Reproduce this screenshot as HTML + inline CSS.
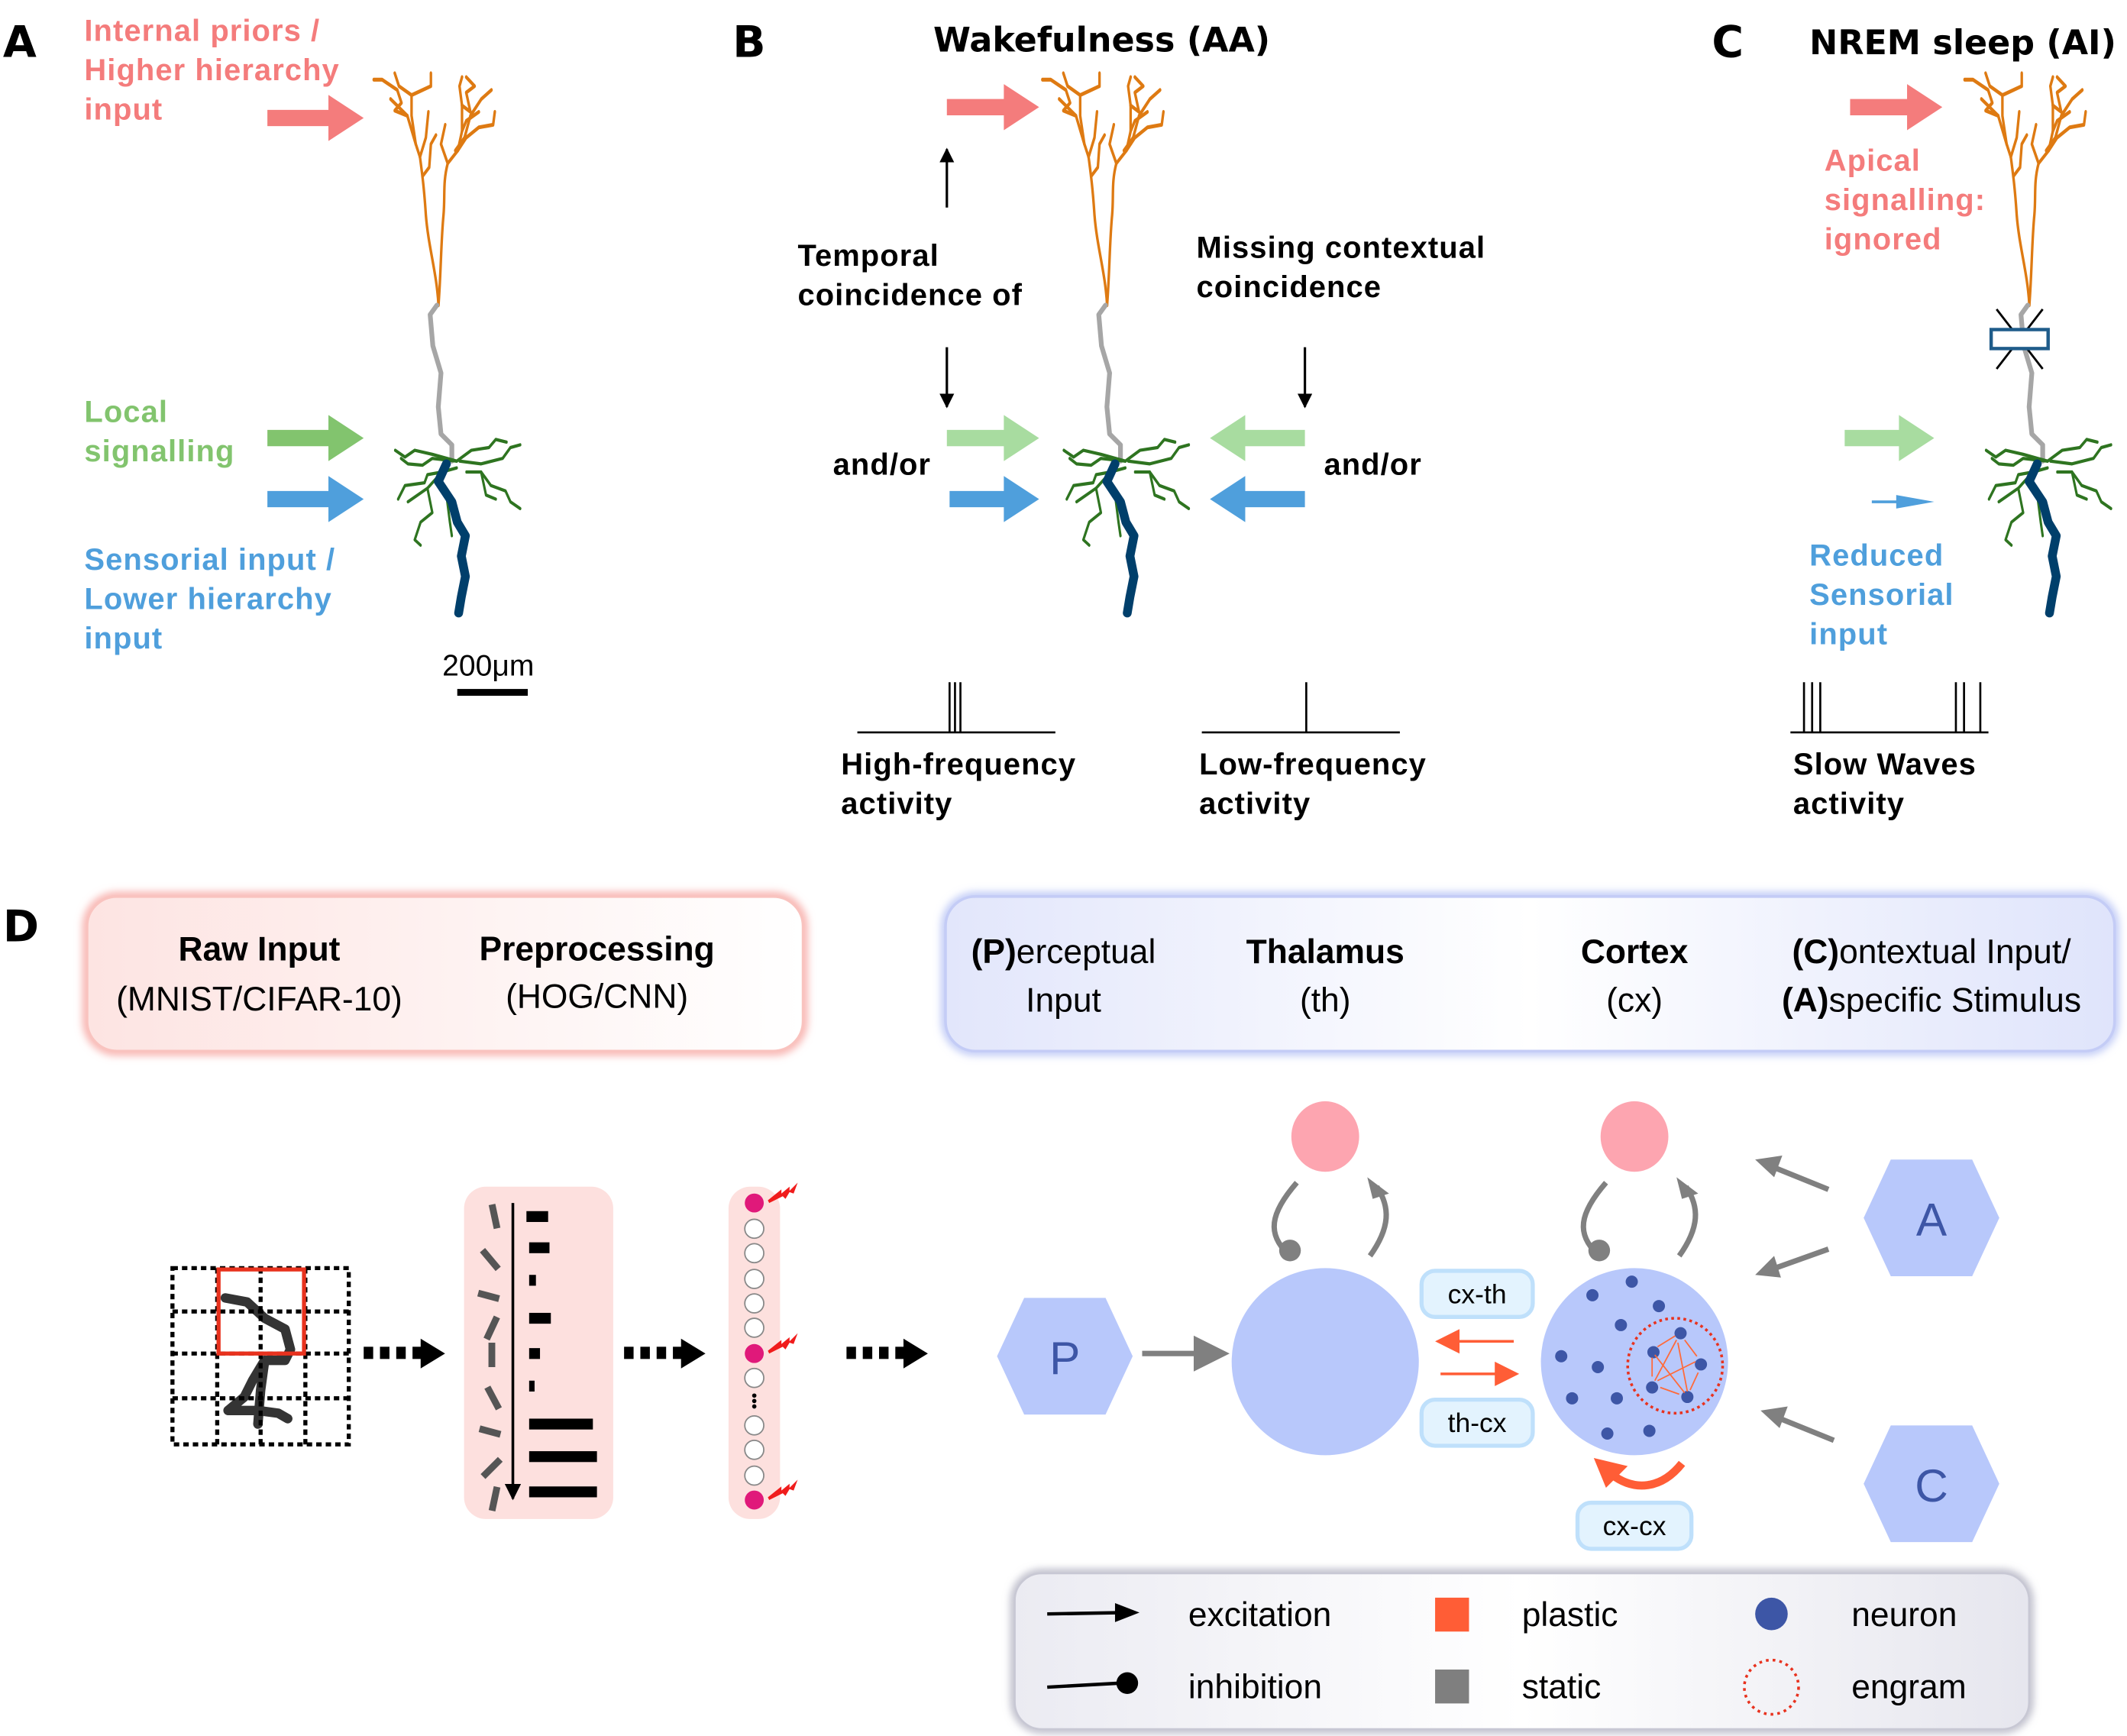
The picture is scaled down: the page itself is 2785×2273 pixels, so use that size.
<!DOCTYPE html>
<html><head><meta charset="utf-8">
<style>
html,body{margin:0;padding:0;background:#fff;}
svg{display:block;}
text{font-family:"Liberation Sans",sans-serif;}
.b{font-weight:bold;}
.dv{font-family:"DejaVu Sans",sans-serif;font-weight:bold;}
.lb{letter-spacing:0.6px;}
</style></head>
<body>
<svg width="2785" height="2273" viewBox="0 0 1568 1280" xmlns="http://www.w3.org/2000/svg">
<defs>
<g id="neuron" fill="none" stroke-linecap="round" stroke-linejoin="round">
  <g stroke="#de7a12" stroke-width="3" transform="translate(0,-115) scale(0.62,0.95) translate(0,115)">
    <path d="M-3,-115 C-5,-140 -15,-160 -18,-185 C-20,-205 -22,-215 -25,-230 L-30,-240 L-40,-262 L-60,-275"/>
    <path d="M-3,-115 C0,-140 0,-165 3,-185 C5,-200 2,-210 8,-225 L20,-235 L25,-250 L25,-270"/>
    <path d="M-25,-230 L-18,-245 L-15,-265"/>
    <path d="M-22,-215 L-14,-222 L-12,-240 L-6,-247"/>
    <path d="M-30,-240 L-35,-262 L-35,-278 L-12,-285 L-12,-295"/>
    <path d="M-40,-262 L-55,-266 L-47,-272 L-52,-282 L-70,-290 L-80,-290"/>
    <path d="M-35,-278 L-50,-285 L-55,-295"/>
    <path d="M8,-225 L0,-240 L5,-255"/>
    <path d="M20,-235 L30,-245 L45,-253 L62,-255 L64,-265"/>
    <path d="M25,-250 L30,-258 L45,-265"/>
    <path d="M25,-270 L22,-285 L25,-292"/>
    <path d="M25,-270 L35,-265 L30,-280 L40,-285 L30,-292"/>
    <path d="M17,-235 L28,-245 L35,-262 L48,-275 L60,-282"/>
  </g>
  <path d="M-3,-115 L-8,-108 L-6,-85 L0,-65 L-2,-40 L0,-20 L8,-12 L8,0" stroke="#a6a6a6" stroke-width="3.5"/>
  <g stroke="#2e7420" stroke-width="2.4" transform="translate(8,0) scale(0.72,1)">
    <path d="M5,0 L-20,-2 L-30,3 L-45,2 L-52,-2"/>
    <path d="M5,0 L-20,-5 L-38,-8 L-48,-3 L-58,-8"/>
    <path d="M5,0 L20,-8 L38,-10 L45,-16 L56,-14"/>
    <path d="M8,0 L30,2 L52,-2 L60,-10 L70,-12"/>
    <path d="M5,5 L-10,8 L-25,10 L-28,16 L-48,18 L-55,28"/>
    <path d="M-10,8 L-25,20 L-20,38 L-32,45 L-38,58 L-32,62"/>
    <path d="M-15,14 L-5,28 L-2,45 L0,55"/>
    <path d="M-25,20 L-45,30"/>
    <path d="M15,8 L30,8 L35,25 L45,28"/>
    <path d="M30,8 L40,18 L55,22 L60,30 L70,35"/>
  </g>
  <path d="M4,2 L-2,15 L8,30 L12,45 L18,55 L15,70 L18,85 L15,100 L13,112" stroke="#003f6b" stroke-width="6.5"/>
</g>
<marker id="ah" viewBox="0 0 10 10" refX="9" refY="5" markerWidth="6" markerHeight="6" orient="auto"><path d="M0,0 L10,5 L0,10z" fill="#000"/></marker>
<filter id="glowR" x="-10%" y="-20%" width="120%" height="140%"><feGaussianBlur stdDeviation="3"/></filter>
<linearGradient id="gR" x1="0" x2="1"><stop offset="0" stop-color="#fde4e2"/><stop offset="1" stop-color="#ffffff"/></linearGradient>
<linearGradient id="gB" x1="0" x2="1"><stop offset="0" stop-color="#e2e6fb"/><stop offset="0.5" stop-color="#ffffff"/><stop offset="1" stop-color="#dfe4fb"/></linearGradient>
<linearGradient id="gL" x1="0" x2="1"><stop offset="0" stop-color="#ebebf2"/><stop offset="0.5" stop-color="#ffffff"/><stop offset="1" stop-color="#e6e6ee"/></linearGradient>
</defs>

<text x="2" y="42" class="dv" font-size="32">A</text>
<text x="540" y="42" class="dv" font-size="32">B</text>
<text x="1262" y="42" class="dv" font-size="32">C</text>
<text x="2" y="694" class="dv" font-size="32">D</text>

<g class="dv lb" font-size="22.5">
<text fill="#f47c7c"><tspan x="62" y="30">Internal priors /</tspan><tspan x="62" y="59">Higher hierarchy</tspan><tspan x="62" y="88">input</tspan></text>
<text fill="#82c46e"><tspan x="62" y="311">Local</tspan><tspan x="62" y="340">signalling</tspan></text>
<text fill="#4f9fdc"><tspan x="62" y="420">Sensorial input /</tspan><tspan x="62" y="449">Lower hierarchy</tspan><tspan x="62" y="478">input</tspan></text>
</g>
<g>
<path d="M197,81 h45 v-11 l26,17 l-26,17 v-11 h-45z" fill="#f47c7c"/>
<path d="M197,317 h45 v-11 l26,17 l-26,17 v-11 h-45z" fill="#82c46e"/>
<path d="M197,362 h45 v-11 l26,17 l-26,17 v-11 h-45z" fill="#4f9fdc"/>
</g>
<use href="#neuron" x="325" y="340"/>
<text x="326" y="498" font-size="22">200μm</text>
<rect x="337" y="508" width="52" height="5" fill="#000"/>

<text x="688" y="38" class="dv" font-size="25">Wakefulness (AA)</text>
<use href="#neuron" x="818" y="340"/>
<path d="M698,73 h42 v-11 l26,17 l-26,17 v-11 h-42z" fill="#f47c7c"/>
<path d="M698,317 h42 v-11 l26,17 l-26,17 v-11 h-42z" fill="#a8dca0"/>
<path d="M700,362 h40 v-11 l26,17 l-26,17 v-11 h-40z" fill="#4f9fdc"/>
<path d="M962,317 h-44 v-11 l-26,17 l26,17 v-11 h44z" fill="#a8dca0"/>
<path d="M962,362 h-44 v-11 l-26,17 l26,17 v-11 h44z" fill="#4f9fdc"/>
<line x1="698" y1="153" x2="698" y2="110" stroke="#000" stroke-width="1.8" marker-end="url(#ah)"/>
<line x1="698" y1="256" x2="698" y2="300" stroke="#000" stroke-width="1.8" marker-end="url(#ah)"/>
<line x1="962" y1="256" x2="962" y2="300" stroke="#000" stroke-width="1.8" marker-end="url(#ah)"/>
<g class="dv lb" font-size="22.5">
<text><tspan x="588" y="196">Temporal</tspan><tspan x="588" y="225">coincidence of</tspan></text>
<text x="614" y="350">and/or</text>
<text><tspan x="882" y="190">Missing contextual</tspan><tspan x="882" y="219">coincidence</tspan></text>
<text x="976" y="350">and/or</text>
<text><tspan x="620" y="571">High-frequency</tspan><tspan x="620" y="600">activity</tspan></text>
<text><tspan x="884" y="571">Low-frequency</tspan><tspan x="884" y="600">activity</tspan></text>
<text><tspan x="1322" y="571">Slow Waves</tspan><tspan x="1322" y="600">activity</tspan></text>
</g>
<g stroke="#000" stroke-width="1.5" fill="none">
<path d="M632,540 H778 M700,540 V503 M704,540 V503 M708,540 V503"/>
<path d="M886,540 H1032 M963,540 V503"/>
<path d="M1320,540 H1466 M1330,540 V503 M1336,540 V503 M1342,540 V503 M1442,540 V503 M1448,540 V503 M1460,540 V503"/>
</g>

<text x="1334" y="40" class="dv" font-size="25">NREM sleep (AI)</text>
<use href="#neuron" x="1498" y="340"/>
<path d="M1364,73 h42 v-11 l26,17 l-26,17 v-11 h-42z" fill="#f47c7c"/>
<path d="M1360,317 h40 v-11 l26,17 l-26,17 v-11 h-40z" fill="#a8dca0"/>
<path d="M1380,371 h18 v-6 l28,5 l-28,5 v-6 h-18z" fill="#4f9fdc"/>
<g stroke="#000" stroke-width="1.6"><line x1="1472" y1="228" x2="1506" y2="272"/><line x1="1506" y1="228" x2="1472" y2="272"/></g>
<rect x="1468" y="243" width="42" height="14" fill="#fff" stroke="#1f5c8a" stroke-width="2.5"/>
<g class="dv lb" font-size="22.5">
<text fill="#f47c7c"><tspan x="1345" y="126">Apical</tspan><tspan x="1345" y="155">signalling:</tspan><tspan x="1345" y="184">ignored</tspan></text>
<text fill="#4f9fdc"><tspan x="1334" y="417">Reduced</tspan><tspan x="1334" y="446">Sensorial</tspan><tspan x="1334" y="475">input</tspan></text>
</g>

<rect x="64" y="661" width="528" height="114" rx="22" fill="none" stroke="#f7a8a4" stroke-width="6" filter="url(#glowR)"/>
<rect x="64" y="661" width="528" height="114" rx="22" fill="url(#gR)" stroke="#f9c3bf" stroke-width="2"/>
<rect x="697" y="661" width="862" height="114" rx="22" fill="none" stroke="#b7c3f5" stroke-width="6" filter="url(#glowR)"/>
<rect x="697" y="661" width="862" height="114" rx="22" fill="url(#gB)" stroke="#c4ccf6" stroke-width="2"/>
<g font-size="25" text-anchor="middle">
<text x="191" y="708" class="b">Raw Input</text><text x="191" y="745">(MNIST/CIFAR-10)</text>
<text x="440" y="708" class="b">Preprocessing</text><text x="440" y="743">(HOG/CNN)</text>
<text x="784" y="710"><tspan class="b">(P)</tspan>erceptual</text><text x="784" y="746">Input</text>
<text x="977" y="710" class="b">Thalamus</text><text x="977" y="746">(th)</text>
<text x="1205" y="710" class="b">Cortex</text><text x="1205" y="746">(cx)</text>
<text x="1424" y="710"><tspan class="b">(C)</tspan>ontextual Input/</text><text x="1424" y="746"><tspan class="b">(A)</tspan>specific Stimulus</text>
</g>

<g>
<g fill="none" stroke="#111" stroke-width="7" stroke-linejoin="round" stroke-linecap="round" opacity="0.85">
<path d="M166,957 L182,960 L195,972 L210,980 L214,995 L210,1003 L197,1003"/>
<path d="M195,1003 L186,1018 L180,1030 L168,1040 L190,1040 L205,1042 L212,1046"/>
<path d="M195,1003 L192,1025 L190,1050"/>
</g>
<g stroke="#000" stroke-width="3" stroke-dasharray="4,3" fill="none">
<rect x="127" y="935" width="130" height="130"/>
<line x1="127" y1="967" x2="257" y2="967"/><line x1="127" y1="998" x2="257" y2="998"/><line x1="127" y1="1031" x2="257" y2="1031"/>
<line x1="160" y1="935" x2="160" y2="1065"/><line x1="192" y1="935" x2="192" y2="1065"/><line x1="225" y1="935" x2="225" y2="1065"/>
</g>
<rect x="161" y="936" width="63" height="62" fill="none" stroke="#e8321e" stroke-width="3"/>
</g>
<g fill="#000">
<g id="da"><rect x="268" y="993" width="7" height="9"/><rect x="280" y="993" width="7" height="9"/><rect x="292" y="993" width="7" height="9"/><rect x="304" y="993" width="7" height="9"/><path d="M310,987 l18,11 l-18,11z"/></g>
<use href="#da" x="192"/>
<use href="#da" x="356"/>
</g>
<rect x="342" y="875" width="110" height="245" rx="16" fill="#fde0de"/>
<line x1="378" y1="887" x2="378" y2="1105" stroke="#000" stroke-width="2" marker-end="url(#ah)"/>
<g fill="#555">
<rect x="362" y="888" width="5" height="18" transform="rotate(-12 364 897)"/>
<rect x="359" y="920" width="5" height="18" transform="rotate(-40 361 929)"/>
<rect x="358" y="948" width="5" height="16" transform="rotate(-75 360 956)"/>
<rect x="360" y="970" width="5" height="18" transform="rotate(25 362 979)"/>
<rect x="360" y="990" width="5" height="18"/>
<rect x="361" y="1022" width="5" height="18" transform="rotate(-28 363 1031)"/>
<rect x="359" y="1048" width="5" height="16" transform="rotate(-75 361 1056)"/>
<rect x="360" y="1073" width="5" height="18" transform="rotate(45 362 1082)"/>
<rect x="362" y="1096" width="5" height="18" transform="rotate(12 364 1105)"/>
</g>
<g fill="#000">
<rect x="388" y="893" width="16" height="8"/><rect x="390" y="916" width="15" height="8"/><rect x="390" y="940" width="5" height="8"/>
<rect x="390" y="968" width="16" height="8"/><rect x="390" y="994" width="8" height="8"/><rect x="390" y="1018" width="4" height="8"/>
<rect x="390" y="1046" width="47" height="8"/><rect x="390" y="1070" width="50" height="8"/><rect x="390" y="1096" width="50" height="8"/>
</g>
<rect x="537" y="875" width="38" height="245" rx="16" fill="#fde0de"/>
<g fill="#fff" stroke="#888" stroke-width="1">
<circle cx="556" cy="906" r="7"/><circle cx="556" cy="924" r="7"/><circle cx="556" cy="943" r="7"/><circle cx="556" cy="961" r="7"/><circle cx="556" cy="979" r="7"/>
<circle cx="556" cy="1016" r="7"/><circle cx="556" cy="1051" r="7"/><circle cx="556" cy="1069" r="7"/><circle cx="556" cy="1088" r="7"/>
</g>
<g fill="#e0197a"><circle cx="556" cy="887" r="7"/><circle cx="556" cy="998" r="7"/><circle cx="556" cy="1106" r="7"/></g>
<g fill="#000"><circle cx="556" cy="1029" r="1.6"/><circle cx="556" cy="1033" r="1.6"/><circle cx="556" cy="1037" r="1.6"/></g>
<g fill="#f01c1c">
<path id="zz" d="M566,885 l10,-8 l0,3 l6,-5 l0,3 l6,-6 l-3,8 l-3,-1 l-3,5 l-2,-2 l-10,5z"/>
<use href="#zz" y="111"/><use href="#zz" y="219"/>
</g>

<polygon points="735,1000 755,957 815,957 835,1000 815,1043 755,1043" fill="#b8c8fb"/>
<text x="785" y="1013" text-anchor="middle" font-size="34" fill="#3d56a6">P</text>
<path d="M842,998 h40 v-10 l20,10 l-20,10 v-10" fill="#808080" stroke="#808080" stroke-width="4"/>
<circle cx="977" cy="1004" r="69" fill="#b8c8fb"/>
<circle cx="1205" cy="1004" r="69" fill="#b8c8fb"/>
<ellipse cx="977" cy="838" rx="25" ry="26" fill="#fda5b0"/>
<ellipse cx="1205" cy="838" rx="25" ry="26" fill="#fda5b0"/>
<g fill="none" stroke="#808080" stroke-width="4">
<path d="M956,872 C936,895 934,910 950,925"/><path d="M1010,926 C1025,905 1025,890 1015,875"/>
<path d="M1184,872 C1164,895 1162,910 1178,925"/><path d="M1238,926 C1253,905 1253,890 1243,875"/>
</g>
<g fill="#808080">
<circle cx="951" cy="922" r="8"/><path d="M1008,868 l16,12 l-12,4z"/>
<circle cx="1179" cy="922" r="8"/><path d="M1236,868 l16,12 l-12,4z"/>
</g>
<g fill="#3d56a6">
<circle cx="1203" cy="945" r="4.5"/><circle cx="1174" cy="955" r="4.5"/><circle cx="1223" cy="963" r="4.5"/><circle cx="1195" cy="977" r="4.5"/>
<circle cx="1151" cy="1000" r="4.5"/><circle cx="1178" cy="1008" r="4.5"/><circle cx="1159" cy="1031" r="4.5"/><circle cx="1192" cy="1031" r="4.5"/>
<circle cx="1185" cy="1057" r="4.5"/><circle cx="1216" cy="1055" r="4.5"/>
<circle cx="1239" cy="983" r="4.5"/><circle cx="1219" cy="997" r="4.5"/><circle cx="1254" cy="1006" r="4.5"/><circle cx="1218" cy="1023" r="4.5"/><circle cx="1244" cy="1030" r="4.5"/>
</g>
<circle cx="1235" cy="1007" r="35" fill="none" stroke="#e8321e" stroke-width="2" stroke-dasharray="2,2.5"/>
<g stroke="#ff6a3a" stroke-width="1" fill="none">
<path d="M1222,993 L1235,985 M1242,988 L1251,1000 M1252,1012 L1246,1025 M1238,1028 L1224,1023 M1218,1015 L1218,1001 M1220,999 L1242,1027 M1237,990 L1244,1026 M1222,1018 L1250,1004 M1236,988 L1220,1018"/>
</g>
<path d="M1116,988 h-40 v-8 l-18,9 l18,9 v-8 h40z" fill="#ff5d36"/>
<path d="M1062,1012 h40 v-8 l18,9 l-18,9 v-8 h-40z" fill="#ff5d36"/>
<path d="M1240,1079 C1225,1098 1205,1100 1188,1087" fill="none" stroke="#ff5d36" stroke-width="6"/>
<path d="M1175,1075 l25,6 l-16,16z" fill="#ff5d36"/>
<g font-size="20" text-anchor="middle">
<rect x="1048" y="937" width="82" height="34" rx="10" fill="#e3f3fe" stroke="#bfe0fb" stroke-width="3"/><text x="1089" y="961">cx-th</text>
<rect x="1048" y="1032" width="82" height="34" rx="10" fill="#e3f3fe" stroke="#bfe0fb" stroke-width="3"/><text x="1089" y="1056">th-cx</text>
<rect x="1163" y="1108" width="84" height="34" rx="10" fill="#e3f3fe" stroke="#bfe0fb" stroke-width="3"/><text x="1205" y="1132">cx-cx</text>
</g>
<polygon points="1374,898 1394,855 1454,855 1474,898 1454,941 1394,941" fill="#b8c8fb"/>
<text x="1424" y="911" text-anchor="middle" font-size="34" fill="#3d56a6">A</text>
<polygon points="1374,1094 1394,1051 1454,1051 1474,1094 1454,1137 1394,1137" fill="#b8c8fb"/>
<text x="1424" y="1107" text-anchor="middle" font-size="34" fill="#3d56a6">C</text>
<g stroke="#808080" stroke-width="4"><line x1="1348" y1="877" x2="1306" y2="860"/><line x1="1348" y1="921" x2="1306" y2="936"/><line x1="1352" y1="1062" x2="1310" y2="1045"/></g>
<g fill="#808080"><path d="M1294,855 l20,-3 l-6,16z"/><path d="M1294,940 l14,-14 l5,16z"/><path d="M1298,1040 l20,-3 l-6,16z"/></g>

<rect x="748" y="1160" width="748" height="115" rx="20" fill="none" stroke="#aaaabb" stroke-width="5" filter="url(#glowR)"/>
<rect x="748" y="1160" width="748" height="115" rx="20" fill="url(#gL)" stroke="#c8c8d4" stroke-width="1.5"/>
<line x1="772" y1="1190" x2="830" y2="1189" stroke="#000" stroke-width="2.5"/><path d="M822,1182 l18,7 l-18,7z" fill="#000"/>
<line x1="772" y1="1244" x2="826" y2="1241" stroke="#000" stroke-width="2.5"/><circle cx="831" cy="1241" r="8" fill="#000"/>
<rect x="1058" y="1178" width="25" height="25" fill="#ff5d36"/>
<rect x="1058" y="1231" width="25" height="25" fill="#7f7f7f"/>
<circle cx="1306" cy="1190" r="12" fill="#3d56a6"/>
<circle cx="1306" cy="1244" r="20" fill="none" stroke="#e8321e" stroke-width="2" stroke-dasharray="2,3"/>
<g font-size="25">
<text x="876" y="1199">excitation</text><text x="876" y="1252">inhibition</text>
<text x="1122" y="1199">plastic</text><text x="1122" y="1252">static</text>
<text x="1365" y="1199">neuron</text><text x="1365" y="1252">engram</text>
</g>
</svg>
</body></html>
